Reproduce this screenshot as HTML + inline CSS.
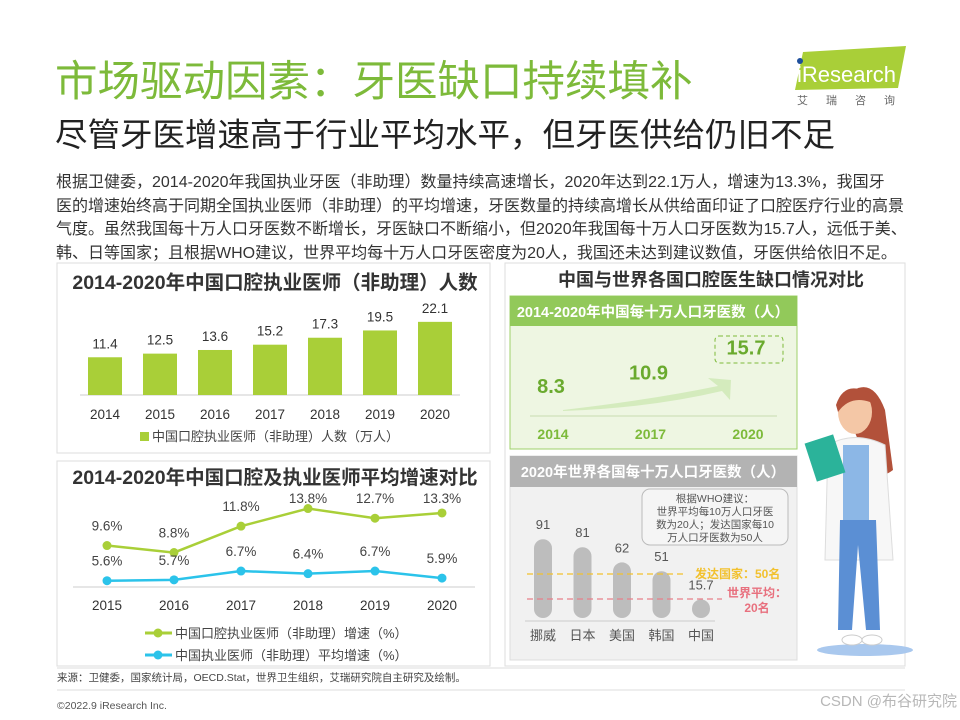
<!DOCTYPE html>
<html><head><meta charset="utf-8">
<style>
body{margin:0;width:960px;height:720px;background:#fff;overflow:hidden;font-family:"Liberation Sans","Noto Sans CJK SC",sans-serif;}
svg{position:absolute;left:0;top:0;}
</style></head>
<body>
<svg width="960" height="720" viewBox="0 0 960 720" font-family="Liberation Sans, Noto Sans CJK SC, sans-serif">
<!-- header -->
<text x="55" y="96" font-size="42.5" fill="#7dba3a">市场驱动因素：牙医缺口持续填补</text>
<text x="55" y="146" font-size="32.5" fill="#222">尽管牙医增速高于行业平均水平，但牙医供给仍旧不足</text>
<g>
<polygon points="803,52 906,46 898,88 795,90" fill="#a9cf38"/>
<circle cx="800" cy="61" r="3" fill="#1e4f9c"/>
<text x="797" y="82" font-size="22" fill="#fff">iResearch</text>
<text x="797" y="104" font-size="11" fill="#666" letter-spacing="18">艾瑞咨询</text>
</g>
<g font-size="16" fill="#333">
<text x="56" y="187">根据卫健委，2014-2020年我国执业牙医（非助理）数量持续高速增长，2020年达到22.1万人，增速为13.3%，我国牙</text>
<text x="56" y="211">医的增速始终高于同期全国执业医师（非助理）的平均增速，牙医数量的持续高增长从供给面印证了口腔医疗行业的高景</text>
<text x="56" y="234">气度。虽然我国每十万人口牙医数不断增长，牙医缺口不断缩小，但2020年我国每十万人口牙医数为15.7人，远低于美、</text>
<text x="56" y="258">韩、日等国家；且根据WHO建议，世界平均每十万人口牙医密度为20人，我国还未达到建议数值，牙医供给依旧不足。</text>
</g>

<!-- bar chart panel -->
<rect x="57" y="263" width="433" height="190" fill="#fff" stroke="#ddd"/>
<text x="275" y="289" font-size="19.5" font-weight="bold" fill="#333" text-anchor="middle">2014-2020年中国口腔执业医师（非助理）人数</text>
<line x1="80" y1="395" x2="460" y2="395" stroke="#ccc"/>
<g id="bars"></g>
<rect x="140" y="432" width="9" height="9" fill="#a9cf38"/>
<text x="152" y="441" font-size="13" fill="#444">中国口腔执业医师（非助理）人数（万人）</text>

<!-- line chart panel -->
<rect x="57" y="461" width="433" height="205" fill="#fff" stroke="#ddd"/>
<text x="275" y="484" font-size="19.5" font-weight="bold" fill="#333" text-anchor="middle">2014-2020年中国口腔及执业医师平均增速对比</text>
<line x1="73" y1="587" x2="475" y2="587" stroke="#ccc"/>
<g id="lines"></g>
<g>
<line x1="145" y1="633" x2="172" y2="633" stroke="#a9cf38" stroke-width="3"/><circle cx="158" cy="633" r="4.5" fill="#a9cf38"/>
<text x="175" y="638" font-size="13" fill="#444">中国口腔执业医师（非助理）增速（%）</text>
<line x1="145" y1="655" x2="172" y2="655" stroke="#2bc3ea" stroke-width="3"/><circle cx="158" cy="655" r="4.5" fill="#2bc3ea"/>
<text x="175" y="660" font-size="13" fill="#444">中国执业医师（非助理）平均增速（%）</text>
</g>

<!-- right panel -->
<rect x="505" y="263" width="400" height="403" fill="#fff" stroke="#ddd"/>
<text x="711" y="286" font-size="18" font-weight="bold" fill="#333" text-anchor="middle">中国与世界各国口腔医生缺口情况对比</text>
<rect x="510" y="296" width="287" height="153" fill="#eef6e2" stroke="#9fd06a"/>
<rect x="510" y="296" width="287" height="30" fill="#92c95a"/>
<text x="653" y="317" font-size="14.5" font-weight="bold" fill="#fff" text-anchor="middle">2014-2020年中国每十万人口牙医数（人）</text>
<path d="M563,410 Q650,400 718,386 L708,378 L731,380 L730,400 L722,391 Q650,408 563,411 Z" fill="#cde8b4" opacity="0.8"/>
<line x1="530" y1="416" x2="777" y2="416" stroke="#c8dcb0"/>
<g id="density"></g>
<rect x="715" y="336" width="68" height="27" rx="4" fill="none" stroke="#7dba3a" stroke-dasharray="4,3"/>

<rect x="510" y="456" width="287" height="204" fill="#f1f1f1" stroke="#ddd"/>
<rect x="510" y="456" width="287" height="31" fill="#b3b3b3"/>
<text x="653" y="477" font-size="14.5" font-weight="bold" fill="#fff" text-anchor="middle">2020年世界各国每十万人口牙医数（人）</text>
<rect x="642" y="489" width="146" height="56" rx="8" fill="#f5f5f5" stroke="#bbb"/>
<g font-size="10.5" fill="#555" text-anchor="middle">
<text x="715" y="502">根据WHO建议：</text><text x="715" y="515">世界平均每10万人口牙医</text><text x="715" y="528">数为20人；发达国家每10</text><text x="715" y="541">万人口牙医数为50人</text>
</g>
<line x1="525" y1="621" x2="715" y2="621" stroke="#ccc"/>
<g id="world"></g>
<line x1="527" y1="574" x2="685" y2="574" stroke="#f2c12e" stroke-width="1.3" stroke-dasharray="6,4"/>
<text x="695" y="578" font-size="12" font-weight="bold" fill="#f2c12e">发达国家：50名</text>
<line x1="527" y1="599" x2="722" y2="599" stroke="#e8808a" stroke-width="1.3" stroke-dasharray="6,4"/>
<text x="757" y="597" font-size="12" font-weight="bold" fill="#e8707e" text-anchor="middle">世界平均：</text>
<text x="757" y="612" font-size="12" font-weight="bold" fill="#e8707e" text-anchor="middle">20名</text>

<!-- nurse -->
<g>
<ellipse cx="865" cy="650" rx="48" ry="6" fill="#a9c8ee"/>
<path d="M842,400 Q870,370 885,410 L893,470 Q880,480 870,470 Z" fill="#b2513a"/>
<ellipse cx="855" cy="412" rx="17" ry="22" fill="#f4c7a6"/>
<path d="M836,405 Q845,378 872,395 L870,402 Q850,395 838,412 Z" fill="#b2513a"/>
<path d="M828,445 Q855,430 885,445 L893,560 L825,560 Z" fill="#f7f7f7" stroke="#ddd"/>
<rect x="843" y="445" width="26" height="80" fill="#8cb7e6"/>
<path d="M840,520 L876,520 L880,630 L866,630 L858,545 L852,630 L838,630 Z" fill="#5b8fd4"/>
<rect x="810" y="438" width="30" height="40" fill="#2bb39a" transform="rotate(-18 825 458)"/>
<ellipse cx="852" cy="640" rx="10" ry="5" fill="#fff" stroke="#ccc"/>
<ellipse cx="872" cy="640" rx="10" ry="5" fill="#fff" stroke="#ccc"/>
</g>

<!-- footer -->
<line x1="57" y1="668" x2="905" y2="668" stroke="#ddd"/>
<text x="57" y="681" font-size="10.5" fill="#444">来源：卫健委，国家统计局，OECD.Stat，世界卫生组织，艾瑞研究院自主研究及绘制。</text>
<line x1="57" y1="690" x2="905" y2="690" stroke="#ddd"/>
<text x="57" y="709" font-size="10.5" fill="#555">©2022.9 iResearch Inc.</text>
<text x="957" y="706" font-size="15" fill="#999" text-anchor="end" opacity="0.7">CSDN @布谷研究院</text>
</svg>
<script>
const barYears=["2014","2015","2016","2017","2018","2019","2020"];
const barValues=[11.4,12.5,13.6,15.2,17.3,19.5,22.1];
const lineYears=["2015","2016","2017","2018","2019","2020"];
const dentalGrowth=[9.6,8.8,11.8,13.8,12.7,13.3];
const doctorGrowth=[5.6,5.7,6.7,6.4,6.7,5.9];
const densityYears=["2014","2017","2020"];
const densityValues=[8.3,10.9,15.7];
const countries=["挪威","日本","美国","韩国","中国"];
const countryValues=[91,81,62,51,15.7];
const NS="http://www.w3.org/2000/svg";
function mk(p,tag,a,txt){const e=document.createElementNS(NS,tag);for(const k in a)e.setAttribute(k,a[k]);if(txt!==undefined)e.textContent=txt;p.appendChild(e);return e;}
// bar chart
const bx=i=>105+i*55, by=v=>395-v*3.31;
const gb=document.getElementById('bars');
barValues.forEach((v,i)=>{
 const r=mk(gb,'rect',{x:bx(i)-17,y:by(v),width:34,height:395-by(v),fill:'#a9cf38'});
 
 
 const t=mk(gb,'text',{x:bx(i),y:by(v)-9,'font-size':13.5,fill:'#333','text-anchor':'middle'},v.toFixed(1));
 
 
 const y=mk(gb,'text',{x:bx(i),y:419,'font-size':13.5,fill:'#333','text-anchor':'middle'},barYears[i]);
 
 
});
// line chart
const lx=i=>107+i*67, ly=v=>630-v*8.8;
const gl=document.getElementById('lines');
[[dentalGrowth,'#a9cf38','dental'],[doctorGrowth,'#2bc3ea','doctor']].forEach(([arr,c,n])=>{
 const p=mk(gl,'polyline',{points:arr.map((v,i)=>lx(i)+','+ly(v)).join(' '),fill:'none',stroke:c,'stroke-width':2.5});
 
 
 arr.forEach((v,i)=>{
  const d=mk(gl,'circle',{cx:lx(i),cy:ly(v),r:4.5,fill:c});
  
  
  const t=mk(gl,'text',{x:lx(i),y:Math.max(ly(v)-15,503),'font-size':13.5,fill:'#444','text-anchor':'middle'},v.toFixed(1)+'%');
  
  
 });
});
lineYears.forEach((y,i)=>{
 const t=mk(gl,'text',{x:lx(i),y:610,'font-size':13.5,fill:'#333','text-anchor':'middle'},y);
 
 
});
// density
const gd=document.getElementById('density');
const dx=i=>553+i*97.5, dy=v=>430-v*5.2;
densityValues.forEach((v,i)=>{
 const t=mk(gd,'text',{x:dx(i)-2,y:dy(v)+6,'font-size':20,'font-weight':'bold',fill:'#6aaa2e','text-anchor':'middle'},v.toFixed(1));
 
 
 const y=mk(gd,'text',{x:dx(i),y:439,'font-size':14,'font-weight':'bold',fill:'#7dba3a','text-anchor':'middle'},densityYears[i]);
 
 
});
// world capsules
const gw=document.getElementById('world');
const wx=i=>543+i*39.5, wh=v=>6+v*0.8;
countryValues.forEach((v,i)=>{
 const h=wh(v);
 const r=mk(gw,'rect',{x:wx(i)-9,y:618-h,width:18,height:h,rx:9,fill:'#bdbdbd'});
 
 
 const t=mk(gw,'text',{x:wx(i),y:618-h-10,'font-size':13,fill:'#555','text-anchor':'middle'},String(v));
 
 
 const c=mk(gw,'text',{x:wx(i),y:640,'font-size':13,fill:'#555','text-anchor':'middle'},countries[i]);
 
 
});
</script>
</body></html>
